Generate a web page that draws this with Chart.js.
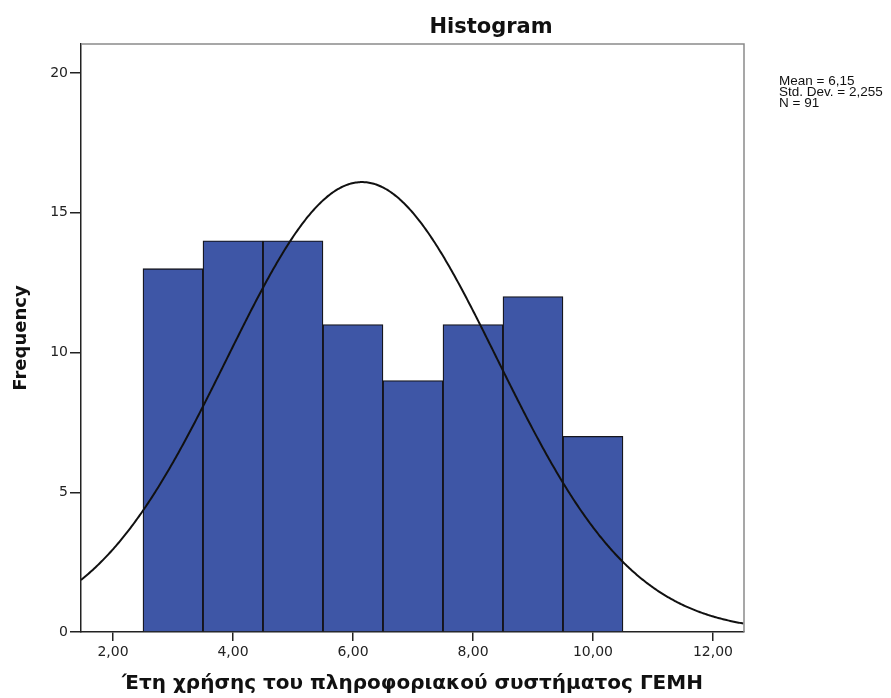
<!DOCTYPE html>
<html>
<head>
<meta charset="utf-8">
<script src="https://cdn.jsdelivr.net/npm/chart.js@4.4.1/dist/chart.umd.min.js"></script>
<style>
  body { margin: 0; background: #fff; }
  #wrap { width: 891px; height: 698px; position: relative; }
</style>
</head>
<body>
<div id="wrap"><canvas id="histChart"></canvas></div>
<script>
// bins (centres) and counts
const binCenters = [3, 4, 5, 6, 7, 8, 9, 10];
const frequencies = [13, 14, 14, 11, 9, 11, 12, 7];
const xTicks = [2, 4, 6, 8, 10, 12];
const yTicks = [0, 5, 10, 15, 20];
const statLines = ['Mean = 6,15', 'Std. Dev. = 2,255', 'N = 91'];
const mean = 6.15;
const stdDev = 2.255;
const nCases = 91;
const binWidth = 1;
const xMin = 1.467, xMax = 12.517, yMax = 21.04;

// fitted normal curve, same as the one SPSS lays over the bars
const curve = [];
for (let x = xMin; x <= xMax + 0.001; x += 0.02) {
  const z = (x - mean) / stdDev;
  curve.push({ x: x, y: nCases * binWidth / (stdDev * Math.sqrt(2 * Math.PI)) * Math.exp(-z * z / 2) });
}

const extras = {
  id: 'extras',
  afterDraw(chart) {
    const { ctx, chartArea: a } = chart;
    ctx.save();
    // grey frame on top and right
    ctx.strokeStyle = '#8a8a8a';
    ctx.lineWidth = 1.5;
    ctx.beginPath();
    ctx.moveTo(a.left, a.top);
    ctx.lineTo(a.right, a.top);
    ctx.lineTo(a.right, a.bottom);
    ctx.stroke();
    // title
    ctx.fillStyle = '#111';
    ctx.font = 'bold 21px "DejaVu Sans"';
    ctx.textAlign = 'center';
    ctx.textBaseline = 'alphabetic';
    ctx.fillText('Histogram', 491, 33);
    // stats box
    ctx.font = '13.5px "Liberation Sans"';
    ctx.textAlign = 'left';
    statLines.forEach((t, i) => ctx.fillText(t, 779, 85 + i * 11));
    ctx.restore();
  }
};

const ctx = document.getElementById('histChart');
new Chart(ctx, {
  type: 'bar',
  data: {
    datasets: [{
      type: 'line',
      data: curve,
      borderColor: '#111',
      borderWidth: 2,
      pointRadius: 0,
      fill: false,
      order: 0
    }, {
      type: 'bar',
      data: binCenters.map((c, i) => ({ x: c, y: frequencies[i] })),
      backgroundColor: '#3e56a6',
      borderColor: '#16161e',
      borderWidth: 1.3,
      barPercentage: 1,
      categoryPercentage: 1,
      order: 1
    }]
  },
  options: {
    responsive: true,
    maintainAspectRatio: false,
    animation: false,
    layout: { padding: { top: 44, right: 147, bottom: 0, left: 0 } },
    plugins: {
      legend: { display: false },
      tooltip: { enabled: false }
    },
    scales: {
      x: {
        type: 'linear',
        min: xMin,
        max: xMax,
        offset: false,
        afterFit: s => { s.height = 66; },
        afterBuildTicks: s => { s.ticks = xTicks.map(v => ({ value: v })); },
        grid: { offset: false, drawOnChartArea: false, tickLength: 9, color: '#222', lineWidth: 1.5 },
        border: { color: '#222', width: 1.5 },
        ticks: {
          padding: 3,
          color: '#222',
          font: { family: 'DejaVu Sans', size: 14 },
          callback: v => v.toFixed(2).replace('.', ',')
        },
        title: {
          display: true,
          text: 'Έτη χρήσης του πληροφοριακού συστήματος ΓΕΜΗ',
          color: '#111',
          font: { family: 'DejaVu Sans', size: 20, weight: 'bold' },
          padding: { top: 0, bottom: 2 }
        }
      },
      y: {
        min: 0,
        max: yMax,
        afterFit: s => { s.width = 81; },
        afterBuildTicks: s => { s.ticks = yTicks.map(v => ({ value: v })); },
        grid: { drawOnChartArea: false, tickLength: 11, color: '#222', lineWidth: 1.5 },
        border: { color: '#222', width: 1.5 },
        ticks: {
          padding: 2,
          color: '#222',
          font: { family: 'DejaVu Sans', size: 14 }
        },
        title: {
          display: true,
          text: 'Frequency',
          color: '#111',
          font: { family: 'DejaVu Sans', size: 18, weight: 'bold' },
          padding: { top: 11, bottom: 0 }
        }
      }
    }
  },
  plugins: [extras]
});
</script>
</body>
</html>
